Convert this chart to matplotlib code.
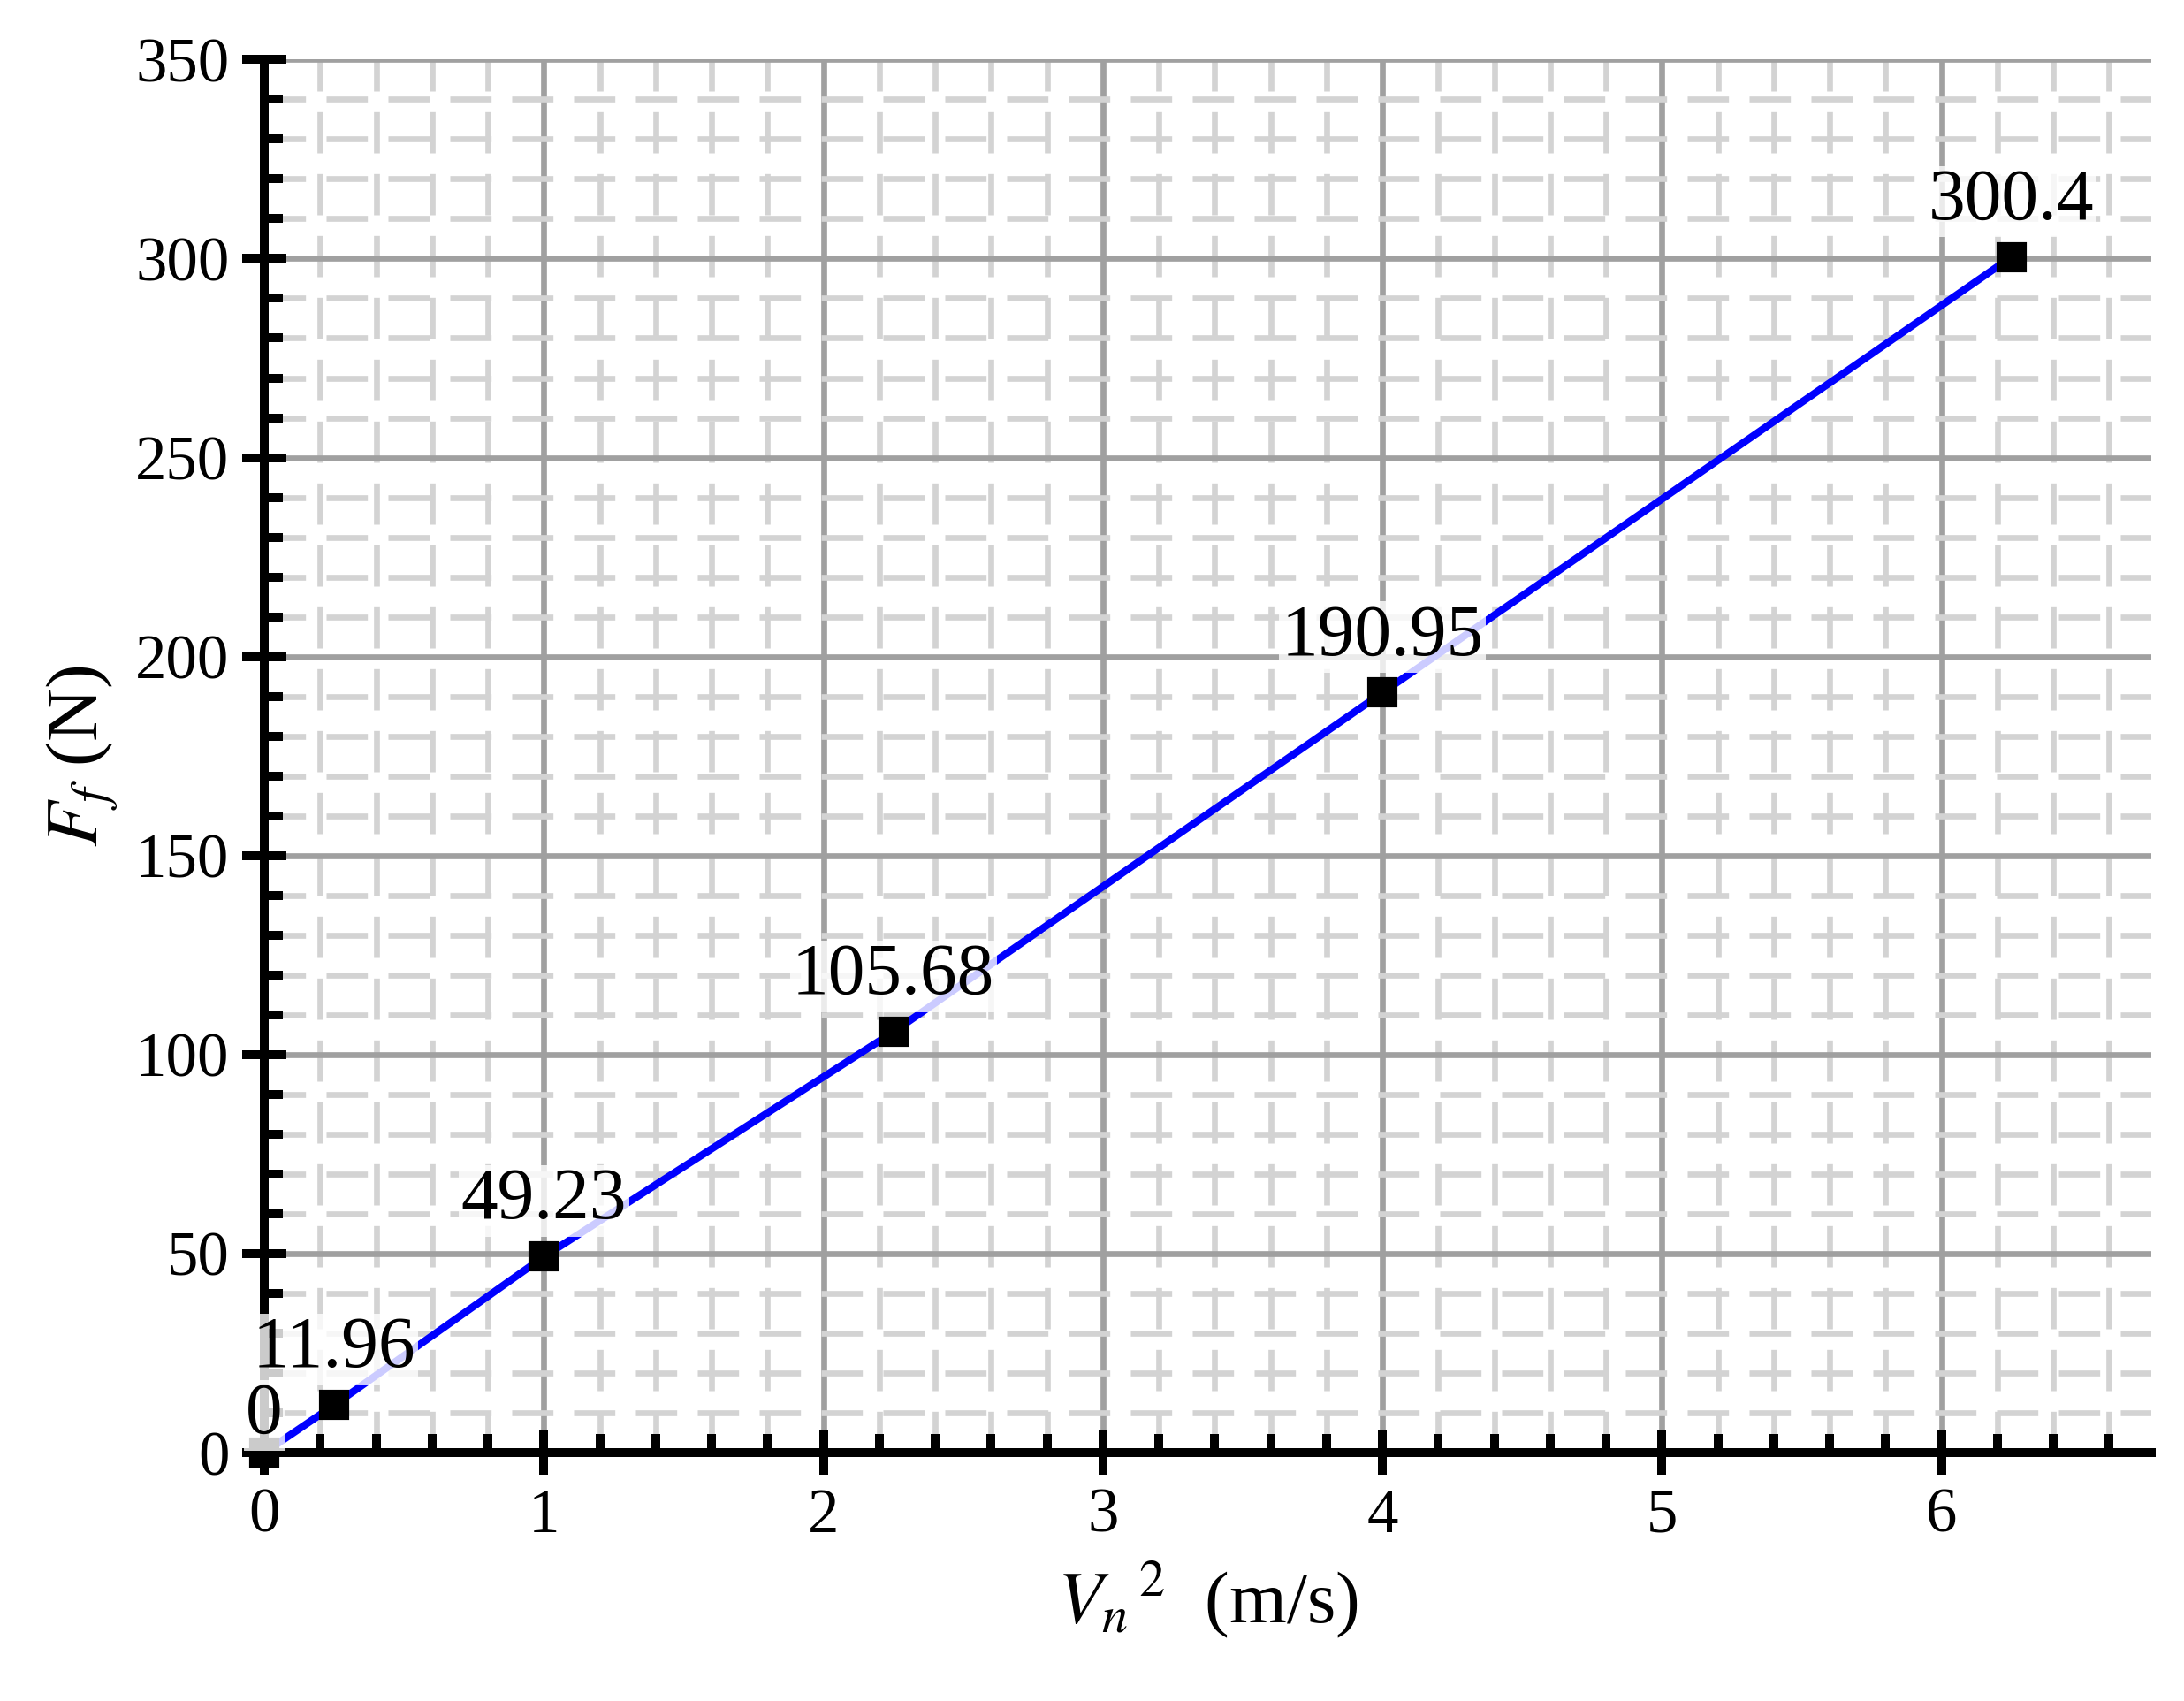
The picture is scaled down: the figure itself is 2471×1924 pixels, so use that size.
import matplotlib
matplotlib.use("Agg")
import matplotlib.pyplot as plt
from matplotlib.ticker import MultipleLocator

x = [0, 0.25, 1, 2.25, 4, 6.25]
y = [0, 11.96, 49.23, 105.68, 190.95, 300.4]
labels = ["0", "11.96", "49.23", "105.68", "190.95", "300.4"]

plt.rcParams['font.family'] = ['Liberation Serif', 'DejaVu Serif']
plt.rcParams['mathtext.fontset'] = 'stix'
fig = plt.figure(figsize=(2471/300, 1924/300), dpi=300)
ax = fig.add_axes([0.121, 0.146, 0.864, 0.819])
ax.set_xlim(0, 6.75)
ax.set_ylim(0, 350)
ax.xaxis.set_major_locator(MultipleLocator(1))
ax.xaxis.set_minor_locator(MultipleLocator(0.2))
ax.yaxis.set_major_locator(MultipleLocator(50))
ax.yaxis.set_minor_locator(MultipleLocator(10))
ax.grid(which='major', color='#a0a0a0', lw=1.6, zorder=0)
ax.grid(which='minor', color='#d3d3d3', lw=1.6, ls=(0, (7, 3.5)), zorder=0)
for s in ['top', 'right']:
    ax.spines[s].set_visible(False)
for s in ['left', 'bottom']:
    ax.spines[s].set_linewidth(2.4)
ax.tick_params(which='major', direction='inout', length=12, width=2.4, labelsize=17)
ax.tick_params(which='minor', direction='in', length=5, width=2.4)
ax.plot(x, y, color='#0000ff', lw=2, zorder=3)
ax.plot(x, y, 's', color='black', ms=7, zorder=4, clip_on=False)
for i, (xi, yi, t) in enumerate(zip(x, y, labels)):
    off = 1 if i == 0 else 6
    ax.annotate(t, (xi, yi), xytext=(0, off), textcoords='offset points', ha='center', va='bottom',
                fontsize=20, zorder=5,
                bbox=dict(facecolor='white', edgecolor='none', alpha=0.8, pad=0.5))
ax.set_xlabel(r'$V_n$$^{\,2}$  (m/s)', fontsize=20)
ax.set_ylabel(r'$F_f$ (N)', fontsize=20)
fig.savefig('out.png', dpi=300)
